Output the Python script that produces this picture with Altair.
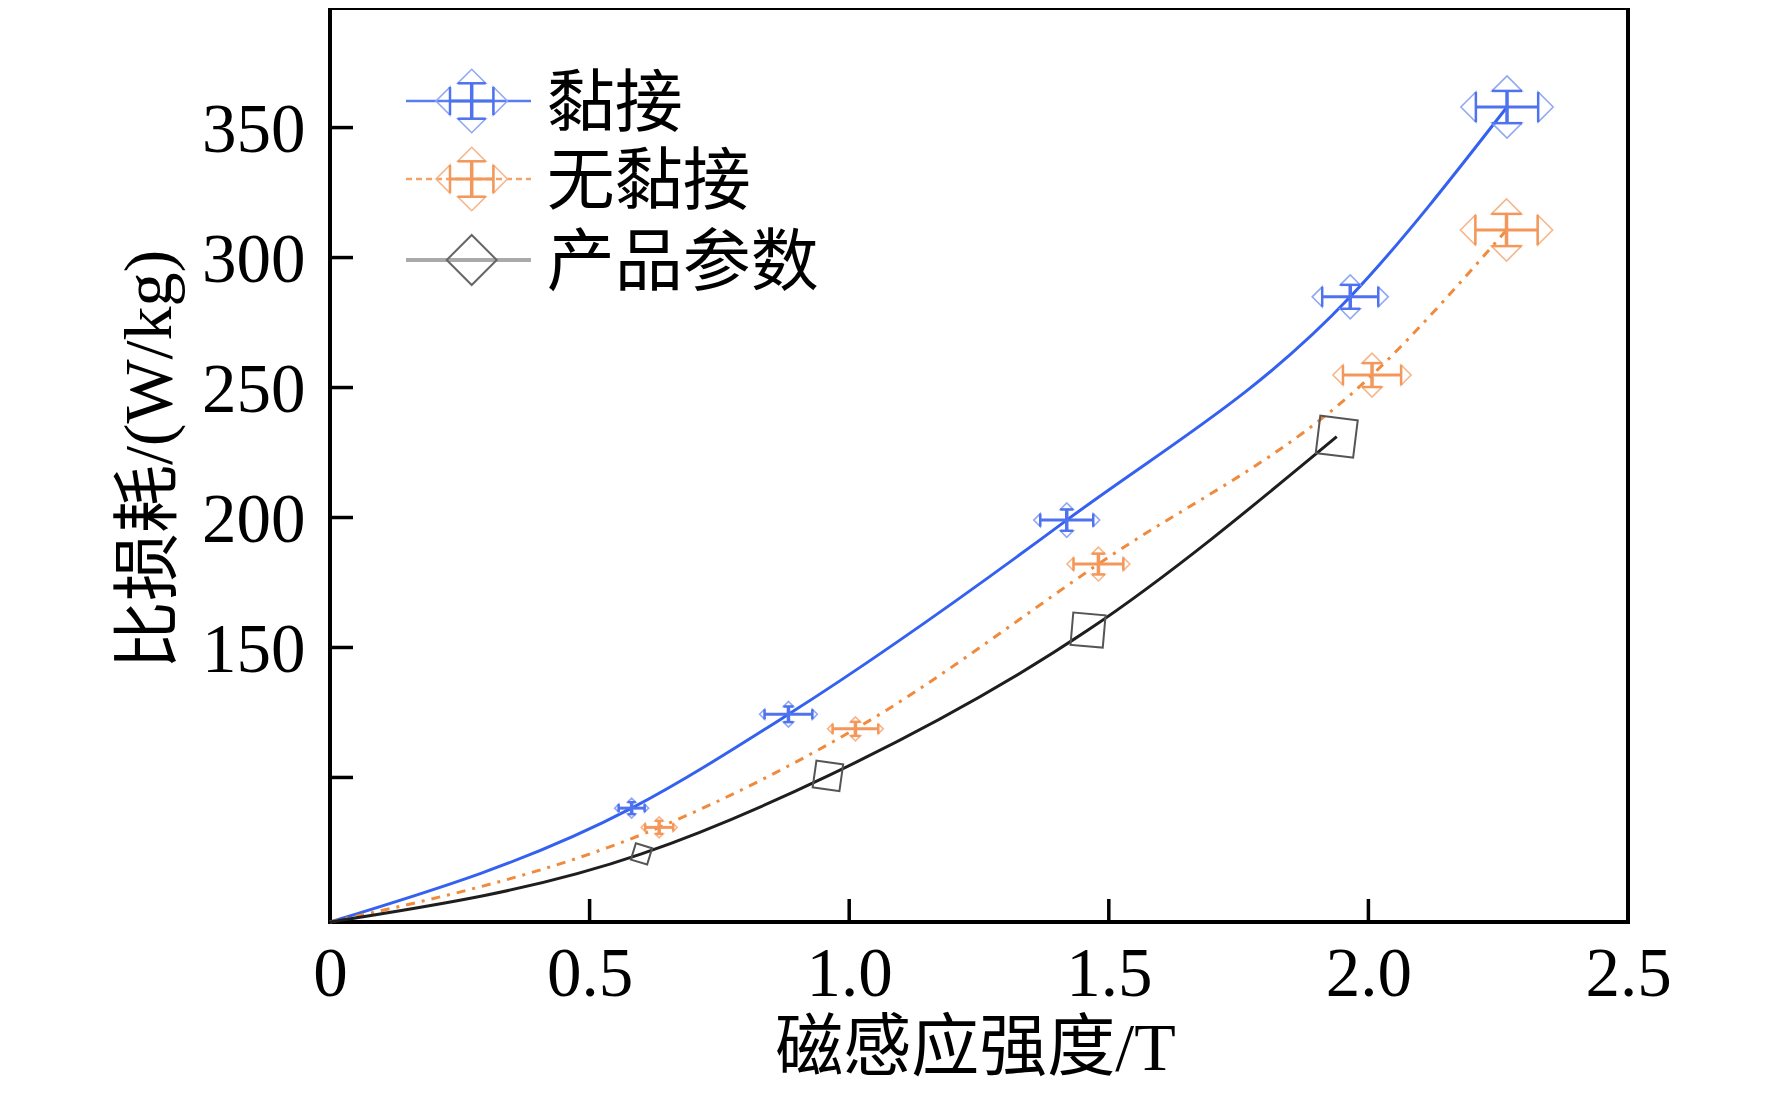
import altair as alt
import pandas as pd

# ---------------- data ----------------
SERIES = ["黏接", "无黏接", "产品参数"]

bond_x = [0.581, 0.883, 1.419, 1.965, 2.267]
bond_y = [88.2, 124.3, 199.0, 284.9, 357.9]
bond_xerr = [0.025, 0.046, 0.051, 0.054, 0.060]
bond_yerr = [2.3, 3.0, 4.1, 4.6, 6.2]

nobond_x = [0.634, 1.012, 1.480, 2.007, 2.266]
nobond_y = [80.8, 118.7, 182.1, 254.8, 310.6]
nobond_xerr = [0.027, 0.044, 0.048, 0.056, 0.060]
nobond_yerr = [2.5, 2.7, 4.0, 4.6, 6.2]

prod_x = [0.600, 0.959, 1.460, 1.939]
prod_y = [70.6, 100.6, 156.7, 231.1]

origin_x = 0.0
origin_y = 44.4

x_ticks = [0, 0.5, 1.0, 1.5, 2.0, 2.5]
y_ticks = [100, 150, 200, 250, 300, 350]
y_labels = [150, 200, 250, 300, 350]

# ---------------- styles ----------------
W, H = 1298, 914
LATIN = "Liberation Serif, Noto Sans CJK SC"
FS = 68

MARK_SIZES = [64, 100, 170, 400, 900]
PROD_SIZES = [290, 730, 1050, 1420]
PROD_ANGLES = [17, 8, 5, 7]

LINE_COL = ["#3461f0", "#f08a3c", "#1e1e1e"]
BAR_COL = ["#4f72ee", "#f3975a"]
TRI_COL = ["#91a9f3", "#f7b68a"]

TRI = {"r": "M0,-1L1,0L0,1Z", "l": "M0,-1L-1,0L0,1Z",
       "u": "M-1,0L0,-1L1,0Z", "d": "M-1,0L0,1L1,0Z"}
CAP = {"r": "M0,-1L0,1", "l": "M0,-1L0,1", "u": "M-1,0L1,0", "d": "M-1,0L1,0"}

XS = alt.Scale(domain=[0, 2.5], nice=False, zero=False)
YS = alt.Scale(domain=[44.4, 396.0], nice=False, zero=False)

X_AX = alt.Axis(values=x_ticks,
                labelExpr="datum.value == 0 ? '0' : format(datum.value, '.1f')",
                ticks=False, tickSize=0, domain=False, grid=False,
                labelFont=LATIN, labelFontSize=69, labelColor="black",
                labelPadding=18, labelFlush=False, labelOverlap=False,
                title="磁感应强度/T", titleFont=LATIN, titleFontSize=FS,
                titleFontWeight="normal", titleColor="black",
                titleX=645, titleY=147, titleAlign="center",
                titleBaseline="alphabetic")
Y_AX = alt.Axis(values=y_labels, ticks=False, tickSize=0, domain=False,
                grid=False, labelFont=LATIN, labelFontSize=69,
                labelColor="black", labelPadding=25, labelOffset=3,
                labelFlush=False, labelOverlap=False,
                title="比损耗/(W/kg)", titleFont=LATIN, titleFontSize=FS,
                titleFontWeight="normal", titleColor="black",
                titleAngle=270, titleX=-146, titleY=451,
                titleAlign="center", titleBaseline="bottom")


def X(f):
    return alt.X(f, type="quantitative", scale=XS, axis=X_AX)


def Y(f):
    return alt.Y(f, type="quantitative", scale=YS, axis=Y_AX)


layers = []

# ---- curves ----
curve_defs = [
    (SERIES[0], bond_x, bond_y, LINE_COL[0], None),
    (SERIES[1], nobond_x, nobond_y, LINE_COL[1], [9, 7, 3, 7]),
    (SERIES[2], prod_x, prod_y, LINE_COL[2], None),
]
for name, xs, ys, col, dash in curve_defs:
    df = pd.DataFrame({"x": [origin_x] + xs, "y": [origin_y] + ys})
    kw = dict(color=col, strokeWidth=3, interpolate="monotone")
    if dash:
        kw["strokeDash"] = dash
    layers.append(alt.Chart(df).mark_line(**kw).encode(x=X("x"), y=Y("y")))

# ---- error bars with arrow-like caps ----
err_defs = [
    (bond_x, bond_y, bond_xerr, bond_yerr, 0),
    (nobond_x, nobond_y, nobond_xerr, nobond_yerr, 1),
]
for xs, ys, xe, ye, k in err_defs:
    bars = pd.DataFrame({
        "x": xs, "y": ys,
        "xlo": [a - b for a, b in zip(xs, xe)],
        "xhi": [a + b for a, b in zip(xs, xe)],
        "ylo": [a - b for a, b in zip(ys, ye)],
        "yhi": [a + b for a, b in zip(ys, ye)],
    })
    layers.append(alt.Chart(bars).mark_rule(color=BAR_COL[k], strokeWidth=3).encode(
        x=X("xlo"), x2="xhi", y=Y("y")))
    layers.append(alt.Chart(bars).mark_rule(color=BAR_COL[k], strokeWidth=3.5).encode(
        x=X("x"), y=Y("ylo"), y2="yhi"))
    rows = []
    for i in range(len(xs)):
        s = MARK_SIZES[i]
        for d, gx, gy in [("r", xs[i] + xe[i], ys[i]), ("l", xs[i] - xe[i], ys[i]),
                          ("u", xs[i], ys[i] + ye[i]), ("d", xs[i], ys[i] - ye[i])]:
            rows.append({"gx": gx, "gy": gy, "tri": TRI[d], "cap": CAP[d], "sz": s})
    g = pd.DataFrame(rows)
    layers.append(alt.Chart(g).mark_point(filled=False, color=TRI_COL[k],
                                          strokeWidth=1.6, opacity=1).encode(
        x=X("gx"), y=Y("gy"),
        shape=alt.Shape("tri:N", scale=None),
        size=alt.Size("sz:Q", scale=None)))
    layers.append(alt.Chart(g).mark_point(filled=False, color=BAR_COL[k],
                                          strokeWidth=2.5, opacity=1).encode(
        x=X("gx"), y=Y("gy"),
        shape=alt.Shape("cap:N", scale=None),
        size=alt.Size("sz:Q", scale=None)))

# ---- product-parameter markers ----
pdf = pd.DataFrame({"x": prod_x, "y": prod_y, "sz": PROD_SIZES, "ang": PROD_ANGLES})
layers.append(alt.Chart(pdf).mark_point(shape="square", filled=False, color="#555555",
                                        strokeWidth=2, opacity=1).encode(
    x=X("x"), y=Y("y"),
    size=alt.Size("sz:Q", scale=None),
    angle=alt.Angle("ang:Q", scale=None)))

# ---- inward ticks ----
layers.append(alt.Chart(pd.DataFrame({"v": x_ticks[1:-1]})).mark_rule(
    color="black", strokeWidth=3.5).encode(
    x=X("v"), y=alt.value(H), y2=alt.value(H - 23)))
layers.append(alt.Chart(pd.DataFrame({"v": y_ticks})).mark_rule(
    color="black", strokeWidth=3.5).encode(
    y=Y("v"), x=alt.value(0), x2=alt.value(23)))

# ---- manual legend (pixel layout) ----
LEG_L, LEG_R, LEG_CX, LEG_TX = 76, 201, 141.7, 216.7
LEG_ROWS = [93, 171, 252]
HX, HY, LS = 21.7, 17.7, 784
leg_line_col = ["#5a7cf0", "#f3a36a", "#aaaaaa"]
leg_line_dash = [None, [6, 4], None]
leg_line_w = [2.5, 2.5, 4]
for i, name in enumerate(SERIES):
    one = pd.DataFrame({"label": [name]})
    cy = LEG_ROWS[i]
    kw = dict(color=leg_line_col[i], strokeWidth=leg_line_w[i])
    if leg_line_dash[i]:
        kw["strokeDash"] = leg_line_dash[i]
    layers.append(alt.Chart(one).mark_rule(**kw).encode(
        x=alt.value(LEG_L), x2=alt.value(LEG_R), y=alt.value(cy)))
    if i < 2:
        layers.append(alt.Chart(one).mark_rule(color=BAR_COL[i], strokeWidth=3).encode(
            x=alt.value(LEG_CX - HX), x2=alt.value(LEG_CX + HX), y=alt.value(cy)))
        layers.append(alt.Chart(one).mark_rule(color=BAR_COL[i], strokeWidth=3.5).encode(
            x=alt.value(LEG_CX), y=alt.value(cy - HY), y2=alt.value(cy + HY)))
        for d, dx, dy in [("r", HX, 0), ("l", -HX, 0), ("u", 0, -HY), ("d", 0, HY)]:
            layers.append(alt.Chart(one).mark_point(
                shape=TRI[d], filled=False, size=LS, color=TRI_COL[i],
                strokeWidth=1.6, opacity=1).encode(
                x=alt.value(LEG_CX + dx), y=alt.value(cy + dy)))
            layers.append(alt.Chart(one).mark_point(
                shape=CAP[d], filled=False, size=LS, color=BAR_COL[i],
                strokeWidth=2.5, opacity=1).encode(
                x=alt.value(LEG_CX + dx), y=alt.value(cy + dy)))
    else:
        layers.append(alt.Chart(one).mark_point(
            shape="diamond", filled=False, size=2500, color="#666666",
            strokeWidth=2, opacity=1).encode(
            x=alt.value(LEG_CX), y=alt.value(cy)))
    layers.append(alt.Chart(one).mark_text(
        align="left", baseline="middle", font=LATIN, fontSize=FS,
        color="black", dy=5).encode(
        x=alt.value(LEG_TX), y=alt.value(cy), text="label:N"))

chart = alt.layer(*layers).properties(
    width=W, height=H,
    autosize=alt.AutoSizeParams(type="none"),
    padding={"left": 322, "top": 0, "right": 120, "bottom": 164},
).configure_view(stroke="black", strokeWidth=4)

chart.save("out.html", embed_options={"renderer": "svg", "actions": False})
